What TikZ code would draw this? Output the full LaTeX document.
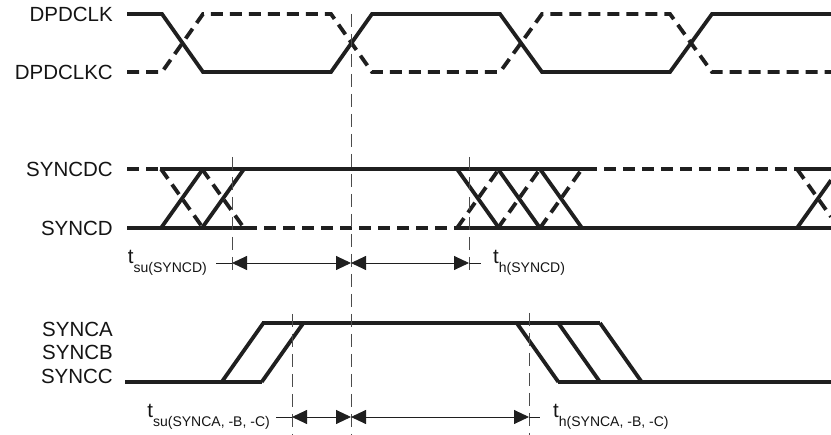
\documentclass[tikz,border=0pt]{standalone}
\usepackage{fontspec}
\setmainfont{Liberation Sans}
\usepackage{tikz}
\usetikzlibrary{arrows.meta,positioning}
\newcommand{\tsub}[1]{t\raisebox{-9pt}{\fontsize{14}{16}\selectfont #1}}

\begin{document}
\begin{tikzpicture}[x=1pt, y=-1pt,
    sig/.style={line width=3.8pt, black!88},
    sigdash/.style={sig, dash pattern=on 12pt off 7pt},
    guide/.style={line width=0.9pt, black!70, dash pattern=on 13pt off 7pt},
    meas/.style={line width=0.9pt, black!88, {Triangle[length=15pt,width=14pt]}-{Triangle[length=15pt,width=14pt]}},
    stub/.style={line width=0.9pt, black!88},
    lbl/.style={font=\fontsize{20.5}{24}\selectfont, inner sep=0pt, text=black!92}]
    \useasboundingbox (0,0) rectangle (831,435);

    % Signal names
    \node[lbl, anchor=east] (nclk)  at (113,14)  {DPDCLK};
    \node[lbl, anchor=east] (nclkc) at (113,72)  {DPDCLKC};
    \node[lbl, anchor=east] (ndc)   at (113,169) {SYNCDC};
    \node[lbl, anchor=east] (nd)    at (113,228) {SYNCD};
    \node[lbl, anchor=base east] (na) at (113,336.5) {SYNCA};
    \node[lbl, anchor=base east] (nb) at (113,360)   {SYNCB};
    \node[lbl, anchor=base east] (nc) at (113,383.5) {SYNCC};

    % Differential clock
    \draw[sig] (127,14) -- (162,14) -- (203,72) -- (331,72) -- (372,14) -- (500,14)
        -- (542,72) -- (670,72) -- (712,14) -- (831,14);
    \draw[sigdash] (127,72) -- (162,72) -- (203,14) -- (331,14) -- (372,72) -- (500,72)
        -- (542,14) -- (670,14) -- (712,72) -- (831,72);

    % SYNCD / SYNCDC rails
    \draw[sigdash] (127,169) -- (160,169);
    \draw[sig] (160,169) -- (585,169);
    \draw[sigdash] (585,169) -- (797,169);
    \draw[sig] (797,169) -- (831,169);
    \draw[sig] (127,228) -- (245,228);
    \draw[sigdash] (245,228) -- (457,228);
    \draw[sig] (457,228) -- (831,228);

    % setup window crossings
    \foreach \x in {161,202} {
        \draw[sig] (\x,228) -- (\x+42,169);
        \draw[sigdash] (\x,169) -- (\x+42,228);
    }
    % hold window crossings
    \foreach \x in {457,498,540} {
        \draw[sig] (\x,169) -- (\x+42,228);
        \draw[sigdash] (\x,228) -- (\x+42,169);
    }
    % next crossing, cut at the edge
    \draw[sig] (797,228) -- (831,180.2);
    \draw[sigdash] (797,169) -- (831,216.8);

    % SYNCA / SYNCB / SYNCC
    \draw[sig] (125,382) -- (262,382);
    \draw[sig] (262,323) -- (600,323);
    \draw[sig] (558,382) -- (831,382);
    \foreach \x in {221.7,261.7} {
        \draw[sig] (\x,382) -- (\x+41.7,323);
    }
    \foreach \x in {516.7,558.3,600} {
        \draw[sig] (\x,323) -- (\x+41.7,382);
    }

    % Guide lines
    \draw[guide] (351,14) -- (351,435);
    \draw[guide] (232,157) -- (232,272);
    \draw[guide] (469,157) -- (469,273);
    \draw[guide] (292,314) -- (292,435);
    \draw[guide] (529,313) -- (529,435);

    % Timing marks, SYNCD
    \coordinate (su1s) at (216,263);
    \coordinate (su1)  at (232,263);
    \coordinate (ref1) at (351,263);
    \coordinate (h1)   at (469,263);
    \coordinate (h1s)  at (481,263);
    \draw[stub] (su1s) -- (su1);
    \draw[meas] (su1) -- (ref1);
    \draw[meas] (ref1) -- (h1);
    \draw[stub] (h1) -- (h1s);
    \node[lbl, anchor=base east] (tsu1) at (207,264) {\tsub{su(SYNCD)}};
    \node[lbl, anchor=base west] (th1)  at (493,264) {\tsub{h(SYNCD)}};

    % Timing marks, SYNCA/B/C
    \coordinate (su2s) at (276,417);
    \coordinate (su2)  at (292,417);
    \coordinate (ref2) at (351,417);
    \coordinate (h2)   at (529,417);
    \coordinate (h2s)  at (540,417);
    \draw[stub] (su2s) -- (su2);
    \draw[meas] (su2) -- (ref2);
    \draw[meas] (ref2) -- (h2);
    \draw[stub] (h2) -- (h2s);
    \node[lbl, anchor=base east] (tsu2) at (270,418) {\tsub{su(SYNCA, -B, -C)}};
    \node[lbl, anchor=base west] (th2)  at (553,418) {\tsub{h(SYNCA, -B, -C)}};
\end{tikzpicture}
\end{document}
